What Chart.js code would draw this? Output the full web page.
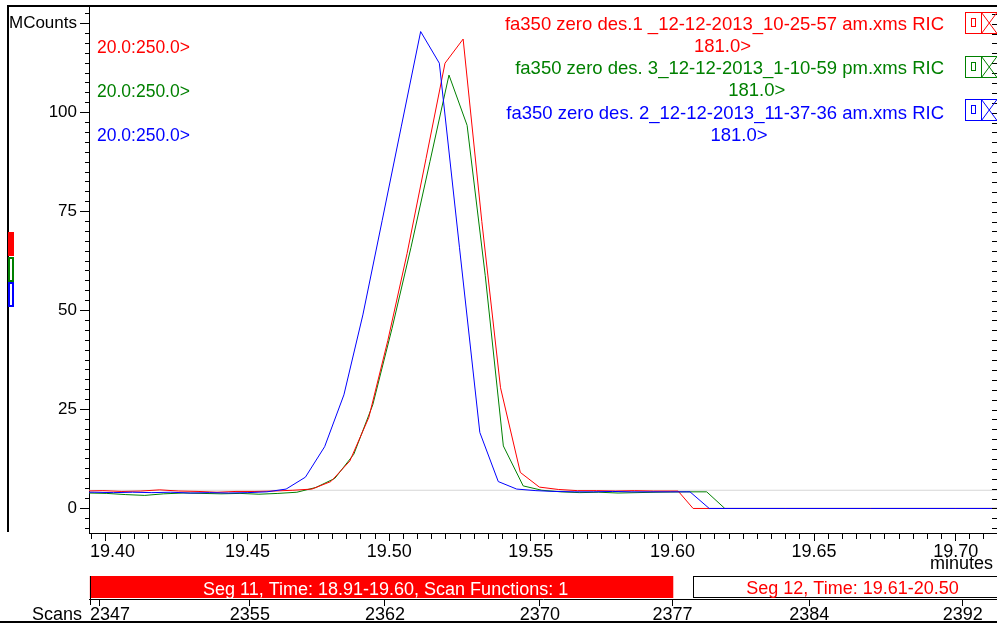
<!DOCTYPE html>
<html>
<head>
<meta charset="utf-8">
<title>fa350 RIC 181.0</title>
<script src="https://cdn.jsdelivr.net/npm/chart.js@4.4.1/dist/chart.umd.min.js"></script>
<style>
    html, body { margin: 0; padding: 0; background: #fff; }
    #chart { display: block; }
</style>
</head>
<body>
<canvas id="chart" width="997" height="625"></canvas>
<script>
const FONT = '"Liberation Sans", Arial, sans-serif'

const seriesNames = [
    'fa350 zero des.1 _12-12-2013_10-25-57 am.xms RIC',
    'fa350 zero des. 3_12-12-2013_1-10-59 pm.xms RIC',
    'fa350 zero des. 2_12-12-2013_11-37-36 am.xms RIC'
]
const seriesColors = ['#ff0000', '#008000', '#0000ff']
const ionLabel = '181.0>'
const rangeLabel = '20.0:250.0>'

// minutes / MCounts
const redTimes = [19.3922, 19.3989, 19.4056, 19.4123, 19.4190, 19.4257, 19.4325, 19.4392, 19.4459, 19.4526,
    19.4593, 19.4660, 19.4727, 19.4794, 19.4861, 19.4928, 19.4995, 19.5063, 19.5130, 19.5197,
    19.5261, 19.5327, 19.5393, 19.5463, 19.5530, 19.5597, 19.5665, 19.5732, 19.5799, 19.5866,
    19.5933, 19.6020, 19.6073, 19.6400, 19.6800, 19.7200]
const redCounts = [4.4, 4.5, 4.3, 4.4, 4.7, 4.4, 4.3, 4.1, 4.3, 4.3,
    4.4, 4.6, 4.9, 6.8, 12.0, 23.0, 42.4, 64.4, 88.4, 112.5,
    118.6, 72.5, 30.5, 9.1, 5.4, 4.8, 4.5, 4.5, 4.4, 4.5,
    4.4, 4.4, 0, 0, 0, 0]

const greenTimes = [19.3936, 19.4003, 19.4070, 19.4137, 19.4204, 19.4272, 19.4339, 19.4406, 19.4473, 19.4540,
    19.4607, 19.4674, 19.4741, 19.4808, 19.4875, 19.4942, 19.5010, 19.5077, 19.5144, 19.5211,
    19.5275, 19.5339, 19.5403, 19.5473, 19.5539, 19.5606, 19.5673, 19.5740, 19.5808, 19.5875,
    19.5942, 19.6051, 19.6121, 19.6185, 19.6500, 19.6900, 19.7200]
const greenCounts = [3.9, 3.8, 3.5, 3.3, 3.7, 3.9, 3.8, 3.7, 3.8, 3.6,
    3.8, 4.1, 5.3, 7.6, 13.7, 26.2, 45.5, 66.0, 87.7, 109.5,
    96.8, 58.9, 15.8, 5.7, 4.6, 4.2, 4.0, 4.1, 3.9, 4.0,
    4.1, 4.2, 4.2, 0, 0, 0, 0]

const blueTimes = [19.3891, 19.3958, 19.4026, 19.4094, 19.4162, 19.4229, 19.4297, 19.4365, 19.4433, 19.4501,
    19.4568, 19.4636, 19.4704, 19.4772, 19.4840, 19.4907, 19.4975, 19.5043, 19.5111, 19.5177,
    19.5248, 19.5320, 19.5385, 19.5450, 19.5518, 19.5585, 19.5653, 19.5721, 19.5789, 19.5857,
    19.5924, 19.5992, 19.6062, 19.6130, 19.6400, 19.6700, 19.7000, 19.7200]
const blueCounts = [4.1, 4.1, 4.0, 4.1, 4.0, 4.1, 3.9, 4.0, 3.9, 4.0,
    4.2, 4.9, 7.9, 15.6, 28.7, 48.9, 72.7, 96.6, 120.5, 112.5,
    66.0, 19.2, 6.8, 4.9, 4.5, 4.3, 4.2, 4.2, 4.3, 4.2,
    4.2, 4.2, 4.2, 0, 0, 0, 0, 0]

const baselineLevel = 4.6

const xMin = 19.394
const xMax = 19.7146
const xMajor = [19.40, 19.45, 19.50, 19.55, 19.60, 19.65, 19.70]
const yMin = -6.2
const yMax = 126.7
const yMajor = [0, 25, 50, 75, 100]
const yUnitTick = 122.5
const yUnit = 'MCounts'
const xUnit = 'minutes'

const scanTimes = [19.3976, 19.4508, 19.4985, 19.5532, 19.6000, 19.6483, 19.7025]
const scanNumbers = ['2347', '2355', '2362', '2370', '2377', '2384', '2392']
const scanTitle = 'Scans'

const segLabels = ['Seg 11, Time: 18.91-19.60, Scan Functions: 1', 'Seg 12, Time: 19.61-20.50']
const segStarts = [19.3943, 19.6073]
const segEnds = [19.6003, 19.7200]

const ctx = document.getElementById('chart')

Chart.defaults.font.family = FONT
Chart.defaults.color = '#000'

const toPoints = (times, counts) => times.map((t, i) => ({ x: t, y: counts[i] }))
const isMajorX = v => Math.abs(v * 20 - Math.round(v * 20)) < 1e-6
const yLabel = v => yMajor.includes(v) ? String(v) : (v === yUnitTick ? yUnit : '')

const line = (c, x1, y1, x2, y2) => {
    c.beginPath()
    c.moveTo(x1, y1)
    c.lineTo(x2, y2)
    c.stroke()
}

const decorations = {
    id: 'decorations',
    afterDraw: chart => {
        const c = chart.ctx
        const area = chart.chartArea
        const { x, y, scan } = chart.scales

        c.save()
        c.fillStyle = '#000'
        c.fillRect(8, 5, 989, 2)
        c.fillRect(7, 5, 2, 527)
        c.fillRect(0, 621, 997, 2)

        // ticks on the right edge
        c.strokeStyle = '#000'
        c.lineWidth = 1
        y.ticks.forEach(t => {
            const py = Math.round(y.getPixelForValue(t.value)) + 0.5
            line(c, 992, py, 997, py)
        })

        // trace markers at the left
        c.fillStyle = seriesColors[0]
        c.fillRect(8, 232, 6, 24)
        c.lineWidth = 2
        c.strokeStyle = seriesColors[1]
        c.strokeRect(9, 258, 4, 23)
        c.strokeStyle = seriesColors[2]
        c.strokeRect(9, 283, 4, 23)

        // trace titles
        const nameBase = [29.5, 74, 118.5]
        const ionBase = [51.5, 96, 141]
        const ionCenter = [722.5, 756.7, 739]
        const rangeBase = [52.5, 96.5, 141]
        const boxTop = [12.5, 56.5, 99.5]
        c.font = `18.5px ${FONT}`
        c.textBaseline = 'alphabetic'
        seriesNames.forEach((name, i) => {
            c.fillStyle = seriesColors[i]
            c.textAlign = 'right'
            c.fillText(name, 944, nameBase[i])
            c.textAlign = 'center'
            c.fillText(ionLabel, ionCenter[i], ionBase[i])
        })
        c.font = `17.5px ${FONT}`
        c.textAlign = 'left'
        seriesNames.forEach((name, i) => {
            c.fillStyle = seriesColors[i]
            c.fillText(rangeLabel, 97, rangeBase[i])
        })

        c.lineWidth = 1
        seriesColors.forEach((color, i) => {
            const top = boxTop[i]
            c.strokeStyle = color
            c.strokeRect(965.5, top, 40, 21)
            c.strokeRect(971.5, top + 6, 4, 8)
            line(c, 981.5, top, 981.5, top + 21)
            line(c, 981.5, top, 997, top + 21)
            line(c, 981.5, top + 21, 997, top)
        })

        // axis labels, kept inside the plot width
        c.font = `18px ${FONT}`
        c.fillStyle = '#000'
        c.textAlign = 'center'
        const row = (scale, values, labels, base) => values.forEach((v, i) => {
            const w = c.measureText(labels[i]).width
            let px = scale.getPixelForValue(v)
            px = Math.max(px, area.left + 1 + w / 2)
            px = Math.min(px, area.right - w / 2)
            c.fillText(labels[i], px, base)
        })
        row(x, xMajor, xMajor.map(v => v.toFixed(2)), 557)
        row(scan, scanTimes, scanNumbers, 620)
        c.textAlign = 'right'
        c.fillText(xUnit, 993, 569)
        c.fillText(scanTitle, 82, 620)

        // scan segments
        const s0 = x.getPixelForValue(segStarts[0])
        const e0 = x.getPixelForValue(segEnds[0])
        c.fillStyle = '#ff0000'
        c.fillRect(s0, 576, e0 - s0, 22)
        c.strokeStyle = '#000'
        line(c, Math.round(s0) + 0.5, 576, Math.round(s0) + 0.5, 605)
        c.fillStyle = '#fff'
        c.textAlign = 'center'
        c.fillText(segLabels[0], (s0 + e0) / 2 + 4, 594.5)

        const s1 = Math.round(x.getPixelForValue(segStarts[1])) + 0.5
        c.fillStyle = '#fff'
        c.fillRect(s1, 576.5, 997 - s1, 21)
        c.strokeRect(s1, 576.5, 320, 21)
        c.fillStyle = '#ff0000'
        c.fillText(segLabels[1], 852.5, 594)

        c.restore()
    }
}

const lineStyle = {
    borderWidth: 1,
    pointRadius: 0,
    tension: 0,
    fill: false
}

new Chart(ctx, {
    type: 'line',
    data: {
        datasets: [
            { ...lineStyle, label: seriesNames[0], data: toPoints(redTimes, redCounts), borderColor: seriesColors[0], order: 1 },
            { ...lineStyle, label: seriesNames[1], data: toPoints(greenTimes, greenCounts), borderColor: seriesColors[1], order: 2 },
            { ...lineStyle, label: seriesNames[2], data: toPoints(blueTimes, blueCounts), borderColor: seriesColors[2], order: 0 },
            { ...lineStyle, label: 'baseline', data: [{ x: xMin, y: baselineLevel }, { x: xMax, y: baselineLevel }], borderColor: '#d6d6d6', order: 5 }
        ]
    },
    options: {
        responsive: false,
        animation: false,
        events: [],
        layout: { padding: { top: 7, left: 0, right: 0, bottom: 3 } },
        plugins: {
            legend: { display: false },
            tooltip: { enabled: false }
        },
        scales: {
            x: {
                type: 'linear',
                position: 'bottom',
                min: xMin,
                max: xMax,
                afterBuildTicks: scale => {
                    const ticks = []
                    for (let i = 3879; i <= 3942; i++) ticks.push({ value: i / 200 })
                    scale.ticks = ticks
                },
                afterFit: scale => {
                    scale.height = 66
                    scale.paddingLeft = 0
                    scale.paddingRight = 0
                },
                ticks: { display: false },
                grid: {
                    drawOnChartArea: false,
                    tickLength: 8,
                    tickColor: '#000',
                    tickBorderDash: c => (c.tick && isMajorX(c.tick.value)) ? [] : [5, 100]
                },
                border: { color: '#000', width: 1 }
            },
            scan: {
                type: 'linear',
                position: 'bottom',
                weight: 1,
                min: xMin,
                max: xMax,
                afterBuildTicks: scale => {
                    scale.ticks = scanTimes.map(v => ({ value: v }))
                },
                afterFit: scale => {
                    scale.height = 23
                    scale.paddingLeft = 0
                    scale.paddingRight = 0
                },
                ticks: { display: false },
                grid: { drawOnChartArea: false, tickLength: 7, tickColor: '#000' },
                border: { color: '#000', width: 1 }
            },
            y: {
                type: 'linear',
                position: 'left',
                min: yMin,
                max: yMax,
                afterBuildTicks: scale => {
                    const ticks = []
                    for (let i = -2; i <= 50; i++) ticks.push({ value: i * 2.5 })
                    scale.ticks = ticks
                },
                afterFit: scale => {
                    scale.width = 89
                    scale.paddingTop = 0
                    scale.paddingBottom = 0
                },
                ticks: {
                    autoSkip: false,
                    padding: 3,
                    font: { size: 17 },
                    color: '#000',
                    callback: v => yLabel(v)
                },
                grid: {
                    drawOnChartArea: false,
                    tickLength: 9,
                    tickColor: '#000',
                    tickBorderDash: c => (c.tick && yLabel(c.tick.value) !== '') ? [] : [0, 5, 4, 100]
                },
                border: { color: '#000', width: 1 }
            }
        }
    },
    plugins: [decorations]
})
</script>
</body>
</html>
